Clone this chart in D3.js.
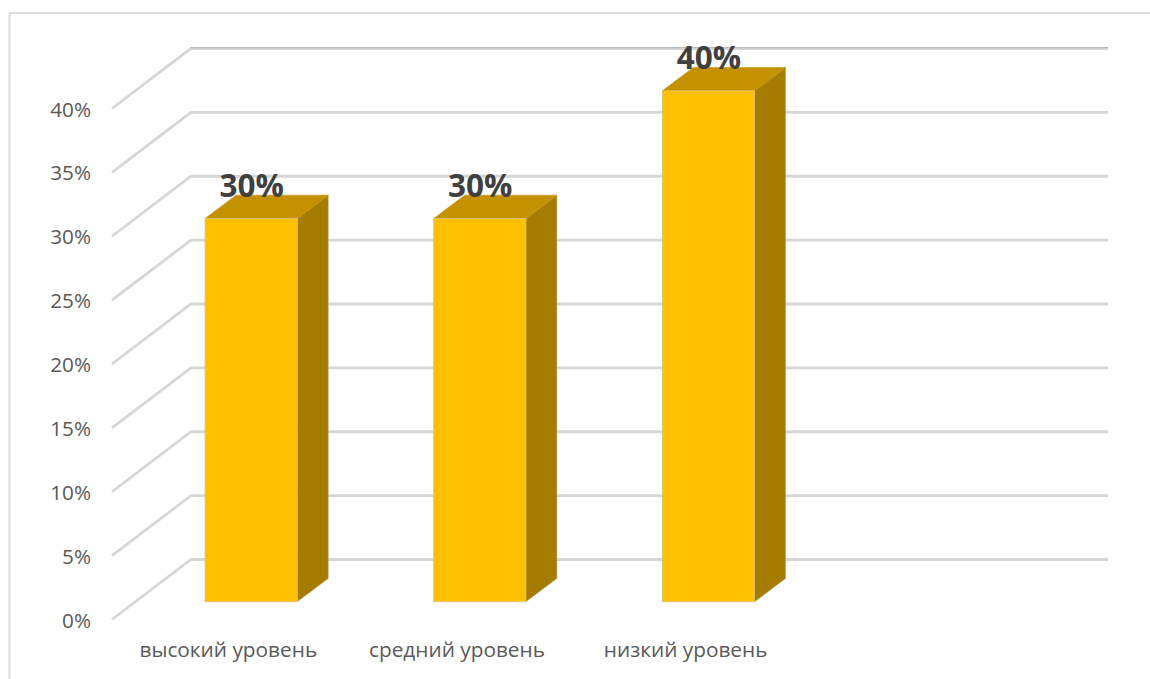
<!DOCTYPE html>
<html><head><meta charset="utf-8">
<script src="https://cdn.jsdelivr.net/npm/d3@7/dist/d3.min.js"></script>
<style>html,body{margin:0;padding:0;background:#fff}svg{display:block}text{font-family:"Open Sans",sans-serif}</style>
</head><body><svg id="c" width="1150" height="679"></svg>
<script>
const categories = ["высокий уровень","средний уровень","низкий уровень",""];
const values = [30,30,40,null];
const labels = ["30%","30%","40%",""];
const tickValues = [0,5,10,15,20,25,30,35,40];
const tickFormat = d => d + "%";

const svg = d3.select("#c");
const x0 = 113, bandStart = 113.8, plotW = 914.6, gridEnd = 1108, depthX = 78, depthY = 60, barDepth = 0.295, barDepthEnd = 0.685;
const y = d3.scaleLinear().domain([0,40]).range([619.5,108.5]);
const x = d3.scaleBand().domain(d3.range(categories.length)).range([bandStart, bandStart+plotW]).paddingInner(0.597).paddingOuter(0.2985);
const py = f => -f*depthY;

// chart frame
svg.append("path").attr("d","M9.5,679V13H1150").attr("fill","none").attr("stroke","#dcdcdc").attr("stroke-width",2);

// gridlines: side wall + back wall
const grid = svg.append("g");
grid.selectAll("path.g").data(tickValues).join("path").attr("class","g")
  .attr("d", d => `M${x0-1},${y(d)}L${x0+depthX},${y(d)-depthY}H${gridEnd}`)
  .attr("fill","none").attr("stroke","#d6d6d6").attr("stroke-width",2.8);
grid.selectAll("path.t").data(tickValues.slice(-1)).join("path").attr("class","t")
  .attr("d", d => `M${x0+depthX},${y(d)-depthY-0.8}H${gridEnd}`)
  .attr("fill","none").attr("stroke","#b4b4b4").attr("stroke-width",1);

// axis labels
svg.append("g").selectAll("text").data(tickValues).join("text")
  .attr("x",91).attr("y",d=>y(d)+8).attr("text-anchor","end")
  .attr("font-size",20.7).attr("fill","#595959").text(tickFormat);

const bars = categories.map((c,i)=>({c,i,v:values[i],label:labels[i]})).filter(d=>d.v!=null);
const dx = (barDepthEnd-barDepth)*depthX + 0.6, dy = (barDepthEnd-barDepth)*depthY;
const g = svg.append("g").selectAll("g").data(bars).join("g")
  .attr("transform",d=>`translate(${x(d.i)+barDepth*depthX},${py(barDepth)})`);
const w = x.bandwidth();
g.append("path").attr("fill","#a67c00").attr("stroke","#b9a567").attr("stroke-width",.6)
  .attr("d",d=>`M${w},${y(0)}L${w+dx},${y(0)-dy}V${y(d.v)-dy}L${w},${y(d.v)}Z`);
g.append("path").attr("fill","#c49200").attr("stroke","#c49200").attr("stroke-width",.6)
  .attr("d",d=>`M0,${y(d.v)}L${dx},${y(d.v)-dy}H${w+dx}L${w},${y(d.v)}Z`);
g.append("rect").attr("fill","#ffc000").attr("stroke","#d9c27a").attr("stroke-width",.8)
  .attr("x",0).attr("width",w).attr("y",d=>y(d.v)).attr("height",d=>y(0)-y(d.v));

// data labels
svg.append("g").selectAll("text").data(bars).join("text")
  .attr("x",d=>x(d.i)+barDepth*depthX+w/2+0.5).attr("y",d=>y(d.v)+py(barDepth)-22)
  .attr("text-anchor","middle").attr("font-size",31.5).attr("font-weight",700).attr("fill","#404040")
  .text(d=>d.label);

// category labels
svg.append("g").selectAll("text").data(bars).join("text")
  .attr("x",d=>x(d.i)+w/2+0.2).attr("y",657).attr("text-anchor","middle")
  .attr("font-size",20.8).attr("fill","#595959").text(d=>d.c);
</script></body></html>
